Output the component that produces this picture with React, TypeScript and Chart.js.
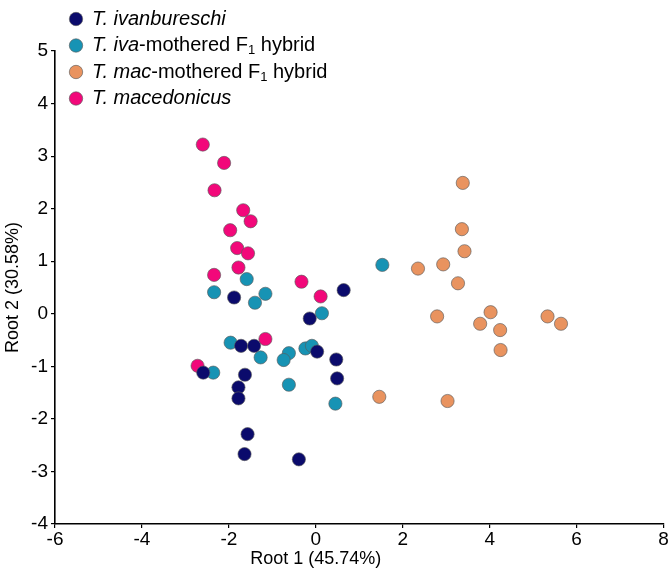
import React, { useEffect, useRef } from "react";
import { Chart, registerables } from "chart.js";

Chart.register(...registerables);

const FONT = '"Liberation Sans", Arial, sans-serif';

// Root 1 / Root 2 scores per group
const ivanX = [-1.88, 0.64, -0.14, -1.72, -1.42, 0.03, 0.47, 0.49, -2.59, -1.63, -1.78, -1.78, -1.57, -1.64, -0.39];
const ivanY = [0.31, 0.45, -0.09, -0.61, -0.61, -0.72, -0.87, -1.23, -1.12, -1.16, -1.40, -1.61, -2.29, -2.67, -2.77];

const ivaHybX = [-1.59, -2.34, -1.16, -1.40, 0.14, 1.53, -1.96, -1.27, -0.62, -0.74, -0.24, -0.09, 0.45, -2.36, -0.62];
const ivaHybY = [0.66, 0.41, 0.38, 0.21, 0.01, 0.93, -0.55, -0.83, -0.75, -0.88, -0.66, -0.61, -1.71, -1.12, -1.35];

const macHybX = [3.38, 3.36, 3.42, 2.35, 2.93, 3.27, 2.79, 4.02, 3.78, 4.24, 4.25, 5.33, 5.64, 1.46, 3.03];
const macHybY = [2.49, 1.61, 1.19, 0.86, 0.94, 0.58, -0.05, 0.03, -0.19, -0.31, -0.69, -0.05, -0.19, -1.58, -1.66];

const macX = [-2.60, -2.11, -2.33, -1.67, -1.50, -1.97, -1.81, -1.56, -1.78, -2.34, -0.33, 0.11, -1.16, -2.72];
const macY = [3.22, 2.87, 2.35, 1.97, 1.76, 1.59, 1.25, 1.15, 0.88, 0.74, 0.61, 0.33, -0.48, -0.99];

const groupColors = ["#0b0b6c", "#1793b4", "#e9935f", "#f2087a"];

type Seg = { t: string; i?: boolean; sub?: boolean };
const legendLabels: Seg[][] = [
  [{ t: "T. ivanbureschi", i: true }],
  [{ t: "T. iva", i: true }, { t: "-mothered F" }, { t: "1", sub: true }, { t: " hybrid" }],
  [{ t: "T. mac", i: true }, { t: "-mothered F" }, { t: "1", sub: true }, { t: " hybrid" }],
  [{ t: "T. macedonicus", i: true }],
];

const xTitle = "Root 1 (45.74%)";
const yTitle = "Root 2 (30.58%)";

const toPts = (xs: number[], ys: number[]) => xs.map((x, k) => ({ x, y: ys[k] }));

const customPlugin = {
  id: "customText",
  afterDraw(chart: any) {
    const ctx = chart.ctx;
    ctx.save();
    // legend
    const lx = 76;
    const ly0 = 19;
    const dy = 26.5;
    legendLabels.forEach((segs, r) => {
      const y = ly0 + r * dy;
      ctx.beginPath();
      ctx.arc(lx, y, 6.7, 0, Math.PI * 2);
      ctx.fillStyle = groupColors[r];
      ctx.fill();
      ctx.lineWidth = 0.8;
      ctx.strokeStyle = "rgba(90,90,90,0.8)";
      ctx.stroke();
      let x = 92;
      ctx.fillStyle = "#000";
      ctx.textBaseline = "middle";
      ctx.textAlign = "left";
      segs.forEach((s) => {
        if (s.sub) {
          ctx.font = `13px ${FONT}`;
          ctx.fillText(s.t, x, y + 5);
        } else {
          ctx.font = `${s.i ? "italic " : ""}20px ${FONT}`;
          ctx.fillText(s.t, x, y);
        }
        x += ctx.measureText(s.t).width;
      });
    });
    // x title
    const xs = chart.scales.x;
    ctx.font = `18px ${FONT}`;
    ctx.fillStyle = "#000";
    ctx.textAlign = "center";
    ctx.textBaseline = "middle";
    ctx.fillText(xTitle, xs.getPixelForValue(0), chart.chartArea.bottom + 35);
    ctx.restore();
  },
};

export default function App() {
  const ref = useRef<HTMLCanvasElement>(null);
  useEffect(() => {
    if (!ref.current) return;
    const ds = [
      toPts(ivanX, ivanY),
      toPts(ivaHybX, ivaHybY),
      toPts(macHybX, macHybY),
      toPts(macX, macY),
    ];
    const chart = new Chart(ref.current, {
      type: "scatter",
      data: {
        datasets: ds.map((d, k) => ({
          label: legendLabels[k].map((s) => s.t).join(""),
          data: d,
          backgroundColor: groupColors[k],
          borderColor: "rgba(90,90,90,0.8)",
          borderWidth: 0.8,
          pointRadius: 6.6,
          pointHoverRadius: 6.6,
        })),
      },
      options: {
        responsive: false,
        animation: false,
        layout: { padding: { left: 0, right: 3, top: 51, bottom: 0 } },
        plugins: { legend: { display: false }, tooltip: { enabled: false } },
        scales: {
          x: {
            type: "linear",
            min: -6,
            max: 8,
            ticks: { stepSize: 2, color: "#000", font: { family: FONT, size: 19 }, padding: 0 },
            grid: { display: true, drawOnChartArea: false, drawTicks: true, tickLength: 4, color: "#000", lineWidth: 1.2 },
            border: { display: true, color: "#000", width: 1.6 },
            afterFit: (s: any) => {
              s.height = 46;
              s.paddingLeft = 0;
              s.paddingRight = 0;
            },
          },
          y: {
            type: "linear",
            min: -4,
            max: 5,
            ticks: { stepSize: 1, color: "#000", font: { family: FONT, size: 19 }, padding: 3 },
            grid: { display: true, drawOnChartArea: false, drawTicks: true, tickLength: 4, color: "#000", lineWidth: 1.2 },
            border: { display: true, color: "#000", width: 1.6 },
            title: { display: true, text: yTitle, color: "#000", font: { family: FONT, size: 18 }, padding: { top: 2, bottom: 0 } },
            afterFit: (s: any) => {
              s.width = 55;
              s.paddingTop = 0;
              s.paddingBottom = 0;
            },
          },
        },
      },
      plugins: [customPlugin],
    } as any);
    return () => chart.destroy();
  }, []);
  return (
    <div style={{ position: "fixed", left: 0, top: 0, width: 671, height: 570, background: "#fff" }}>
      <canvas ref={ref} width={671} height={570} />
    </div>
  );
}
